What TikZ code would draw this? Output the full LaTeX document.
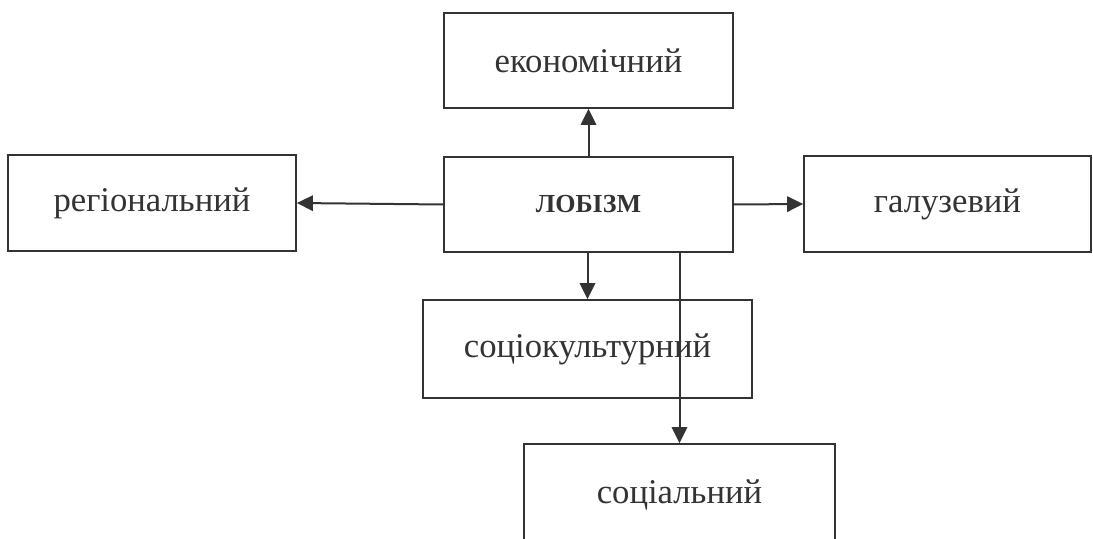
\documentclass[tikz,border=0pt]{standalone}
\usepackage{fontspec}
\setmainfont{Liberation Serif}
\usetikzlibrary{arrows.meta}
\definecolor{ink}{HTML}{333333}
\begin{document}
\begin{tikzpicture} [x=0.75pt, y=-0.75pt,
            box_style/.style={rectangle, draw=ink, line width=1.3pt, text=ink, inner sep=0pt,
              font=\fontsize{26}{30}\selectfont},
            arrow_style/.style={draw=ink, line width=1.5pt, -{Triangle[length=12pt, width=11.5pt]}}]
            \clip (0,0) rectangle (1093,539);
            \node[box_style, minimum width=216.75pt, minimum height=71.25pt] (econ) at (588.5,60.5) {економічний};
            \node[box_style, minimum width=216.75pt, minimum height=71.25pt,
              font=\fontsize{19.5}{24}\selectfont\bfseries] (lobby) at (588.5,204.5) {ЛОБІЗМ};
            \node[box_style, minimum width=216pt, minimum height=72pt] (reg) at (152,203) {регіональний};
            \node[box_style, minimum width=215.25pt, minimum height=72pt] (gal) at (947.5,204) {галузевий};
            \node[box_style, minimum width=246.75pt, minimum height=73.5pt] (socult) at (587.5,349) {соціокультурний};
            \node[box_style, minimum width=233.25pt, minimum height=76.5pt] (soc) at (679.5,495) {соціальний};
            \draw[arrow_style] (lobby.north) -- (econ.south);
            \draw[arrow_style] (lobby.west) -- (reg.east);
            \draw[arrow_style] (lobby.east) -- (gal.west);
            \draw[arrow_style] (lobby.south -| socult.north) -- (socult.north);
            \draw[arrow_style] (lobby.south -| soc.north) -- (soc.north);
        \end{tikzpicture}
\end{document}
